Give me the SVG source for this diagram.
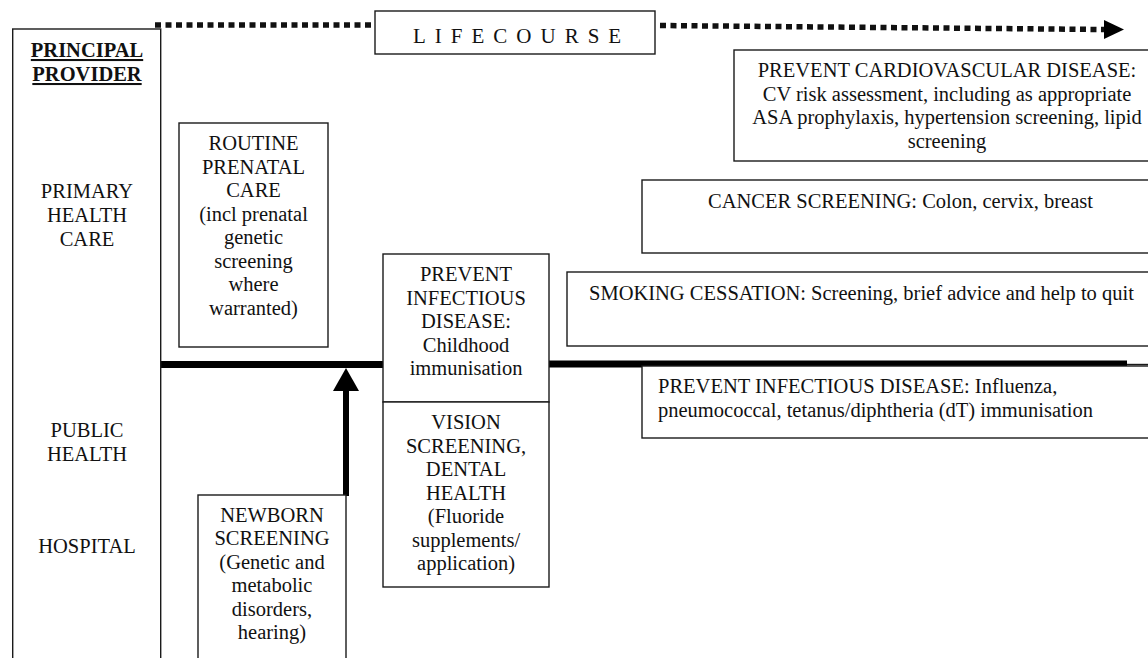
<svg xmlns="http://www.w3.org/2000/svg" width="1148" height="658" viewBox="0 0 1148 658">
<style>
.box{fill:#fff;stroke:#1a1a1a;stroke-width:1.4}
text{font-family:"Liberation Serif","Times New Roman",serif;font-size:20.5px;fill:#111}
.c{text-anchor:middle}
.b{font-weight:bold;text-decoration:underline}
.dot{stroke:#111;stroke-width:5.5;stroke-dasharray:6 4.5;fill:none}
.thick{stroke:#000;stroke-width:7;fill:none}
</style>
<rect width="1148" height="658" fill="#fff"/>
<g id="connectors">
<line class="dot" x1="155" y1="25" x2="372" y2="25"/>
<line class="dot" x1="660" y1="25.5" x2="1104" y2="29.5"/>
<polygon points="1104,20 1124,29.5 1104,39" fill="#000"/>
<line class="thick" x1="161" y1="364.5" x2="383" y2="364.5"/>
<line class="thick" x1="549" y1="364" x2="1127" y2="364"/>
<line x1="346" y1="496" x2="346" y2="390" stroke="#000" stroke-width="6"/>
<polygon points="333,391 359,391 346,368" fill="#000"/>
</g>
<g id="provider">
<rect class="box" x="12.7" y="29" width="148" height="660"/>
<text class="c b" x="87" y="57">PRINCIPAL</text>
<text class="c b" x="87" y="81">PROVIDER</text>
<text class="c" x="87" y="198">PRIMARY</text>
<text class="c" x="87" y="222">HEALTH</text>
<text class="c" x="87" y="246">CARE</text>
<text class="c" x="87" y="437">PUBLIC</text>
<text class="c" x="87" y="461">HEALTH</text>
<text class="c" x="87" y="553">HOSPITAL</text>
</g>
<g id="lifecourse">
<rect class="box" x="375" y="11" width="280" height="43"/>
<text x="413" y="43" style="font-size:21px;letter-spacing:9px">LIFECOURSE</text>
</g>
<g id="prenatal">
<rect class="box" x="179" y="123" width="149" height="224"/>
<text class="c" x="253.5" y="150">ROUTINE</text>
<text class="c" x="253.5" y="173.5">PRENATAL</text>
<text class="c" x="253.5" y="197">CARE</text>
<text class="c" x="253.5" y="220.5">(incl prenatal</text>
<text class="c" x="253.5" y="244">genetic</text>
<text class="c" x="253.5" y="267.5">screening</text>
<text class="c" x="253.5" y="291">where</text>
<text class="c" x="253.5" y="314.5">warranted)</text>
</g>
<g id="childhood">
<rect class="box" x="383" y="254" width="166" height="148"/>
<text class="c" x="466" y="281">PREVENT</text>
<text class="c" x="466" y="304.5">INFECTIOUS</text>
<text class="c" x="466" y="328">DISEASE:</text>
<text class="c" x="466" y="351.5">Childhood</text>
<text class="c" x="466" y="375">immunisation</text>
</g>
<g id="vision">
<rect class="box" x="383" y="402" width="166" height="185"/>
<text class="c" x="466" y="429">VISION</text>
<text class="c" x="466" y="452.5">SCREENING,</text>
<text class="c" x="466" y="476">DENTAL</text>
<text class="c" x="466" y="499.5">HEALTH</text>
<text class="c" x="466" y="523">(Fluoride</text>
<text class="c" x="466" y="546.5">supplements/</text>
<text class="c" x="466" y="570">application)</text>
</g>
<g id="newborn">
<rect class="box" x="198" y="495" width="148" height="200"/>
<text class="c" x="272" y="522">NEWBORN</text>
<text class="c" x="272" y="545">SCREENING</text>
<text class="c" x="272" y="568.5">(Genetic and</text>
<text class="c" x="272" y="592">metabolic</text>
<text class="c" x="272" y="615.5">disorders,</text>
<text class="c" x="272" y="639">hearing)</text>
</g>
<g id="cardio">
<rect class="box" x="734" y="50" width="440" height="111"/>
<text class="c" x="947" y="77">PREVENT CARDIOVASCULAR DISEASE:</text>
<text class="c" x="947" y="100.5">CV risk assessment, including as appropriate</text>
<text class="c" x="947" y="124">ASA prophylaxis, hypertension screening, lipid</text>
<text class="c" x="947" y="147.5">screening</text>
</g>
<g id="cancer">
<rect class="box" x="642" y="180" width="530" height="73"/>
<text x="708" y="208">CANCER SCREENING: Colon, cervix, breast</text>
</g>
<g id="smoking">
<rect class="box" x="567" y="272" width="600" height="74"/>
<text x="589" y="300">SMOKING CESSATION: Screening, brief advice and help to quit</text>
</g>
<g id="influenza">
<rect class="box" x="642" y="366" width="530" height="72"/>
<line x1="1127" y1="364.5" x2="1148" y2="364.5" stroke="#1a1a1a" stroke-width="1.4"/>
<text x="658" y="393">PREVENT INFECTIOUS DISEASE: Influenza,</text>
<text x="658" y="417">pneumococcal, tetanus/diphtheria (dT) immunisation</text>
</g>
</svg>
